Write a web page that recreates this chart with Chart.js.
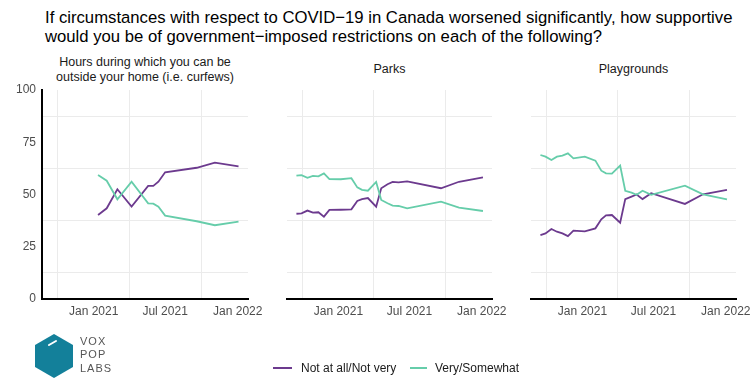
<!DOCTYPE html>
<html>
<head>
<meta charset="utf-8">
<script src="https://cdn.jsdelivr.net/npm/chart.js@4.4.0/dist/chart.umd.min.js"></script>
<style>
html,body{margin:0;padding:0;background:#fff;}
#wrap{position:relative;width:754px;height:381px;overflow:hidden;font-family:"Liberation Sans",Arial,Helvetica,sans-serif;}
#wrap canvas{position:absolute;left:0;top:0;}
.title{position:absolute;left:45px;top:8px;font-size:16.7px;line-height:19px;color:#000;white-space:nowrap;}
.ptitle{position:absolute;text-align:center;font-size:12.5px;line-height:15px;color:#1a1a1a;white-space:nowrap;}
.leg{position:absolute;top:360px;font-size:12px;line-height:16px;color:#1a1a1a;white-space:nowrap;}
.sw{position:absolute;height:2px;top:367px;}
.logotxt{position:absolute;left:80px;font-size:11px;line-height:13px;letter-spacing:1px;color:#555;}
</style>
</head>
<body>
<div id="wrap">
  <div class="title">If circumstances with respect to COVID−19 in Canada worsened significantly, how supportive<br>would you be of government−imposed restrictions on each of the following?</div>
  <div class="ptitle" style="left:42px;width:206px;top:55px;">Hours during which you can be<br>outside your home (i.e. curfews)</div>
  <div class="ptitle" style="left:287px;width:205px;top:62px;">Parks</div>
  <div class="ptitle" style="left:531px;width:205px;top:62px;">Playgrounds</div>
  <canvas id="c1" width="754" height="381"></canvas>
  <canvas id="c2" width="754" height="381"></canvas>
  <canvas id="c3" width="754" height="381"></canvas>
  <div class="sw" style="left:273px;width:19px;background:#6C3A8E;"></div>
  <div class="leg" style="left:301px;">Not at all/Not very</div>
  <div class="sw" style="left:410px;width:17px;background:#66CDAA;"></div>
  <div class="leg" style="left:435px;">Very/Somewhat</div>
  <svg style="position:absolute;left:0;top:0;" width="100" height="381">
    <polygon points="54,334 73,345 73,367 54,378 35,367 35,345" fill="#13809A"/>
    <line x1="49" y1="345" x2="56" y2="341" stroke="#fff" stroke-width="2" stroke-linecap="round"/>
  </svg>
  <div class="logotxt" style="top:335px;">VOX</div>
  <div class="logotxt" style="top:348px;">POP</div>
  <div class="logotxt" style="top:362px;">LABS</div>
</div>
<script>
// ---- data ----
const seriesNames = ['Not at all/Not very', 'Very/Somewhat'];

const curfewDates = ['2021-01-12','2021-02-03','2021-03-02','2021-04-07','2021-05-19','2021-06-01','2021-06-14','2021-07-01','2021-09-19','2021-11-04','2022-01-03'];
const curfewNotVery = [40.2, 43.4, 52.5, 44.2, 54.1, 54.1, 56.1, 60.6, 62.8, 65.2, 63.5];
const curfewVery    = [59.3, 56.6, 47.7, 56.1, 45.8, 45.6, 44.2, 39.9, 37.2, 35.3, 37.0];

const surveyDates = ['2020-09-16','2020-09-29','2020-10-14','2020-10-28','2020-11-11','2020-11-25','2020-12-09','2021-01-07','2021-02-03','2021-02-18','2021-03-02','2021-03-17','2021-04-07','2021-04-20','2021-05-06','2021-05-19','2021-06-03','2021-06-25','2021-09-19','2021-11-04','2022-01-04'];
const parksNotVery = [40.8, 41.0, 42.3, 41.3, 41.5, 39.4, 42.6, 42.7, 42.9, 46.9, 47.8, 48.3, 44.2, 53.0, 54.9, 56.0, 55.8, 56.3, 53.0, 56.1, 58.2];
const parksVery    = [59.0, 59.3, 58.0, 58.9, 58.7, 60.1, 57.4, 57.3, 57.8, 53.4, 52.2, 51.8, 56.0, 47.4, 45.8, 44.7, 44.5, 43.4, 46.6, 43.7, 42.1];
const playNotVery  = [30.6, 31.4, 33.5, 32.2, 31.4, 30.1, 32.7, 32.4, 33.8, 38.1, 40.0, 40.2, 36.5, 47.8, 49.0, 50.0, 47.8, 50.6, 45.5, 50.1, 52.2];
const playVery     = [68.9, 68.1, 66.5, 68.1, 68.6, 69.7, 67.3, 68.1, 66.2, 61.4, 60.1, 60.0, 63.8, 51.8, 50.9, 49.9, 51.8, 49.8, 54.2, 50.1, 47.7];

const xTickDates  = ['2021-01-01','2021-07-01','2022-01-01'];
const xTickLabels = ['Jan 2021','Jul 2021','Jan 2022'];
const xGridDates  = ['2020-10-01','2021-04-01','2021-10-01'];
const yTickValues = [0, 25, 50, 75, 100];
const yGridValues = [12.5, 37.5, 62.5, 87.5];

// ---- helpers ----
const toDay = s => Math.round(Date.UTC(+s.slice(0,4), +s.slice(5,7)-1, +s.slice(8,10)) / 86400000);
const xMin = toDay('2020-08-23');
const xMax = toDay('2022-01-27');
const xTickDays = xTickDates.map(toDay);
const xGridDays = xGridDates.map(toDay);
const xAllTicks = [...xGridDays, ...xTickDays].sort((a,b)=>a-b);
const yAllTicks = [...yTickValues, ...yGridValues].sort((a,b)=>a-b);

const PURPLE = '#6C3A8E';
const TEAL = '#66CDAA';
const GRID = '#EBEBEB';
const FONT = '"Liberation Sans", Arial, Helvetica, sans-serif';

function makePanel(id, dates, notVery, very, left, right, showY) {
  const xs = dates.map(toDay);
  new Chart(document.getElementById(id), {
    type: 'line',
    data: {
      datasets: [
        { label: seriesNames[1], data: xs.map((x,i)=>({x, y: very[i]})), borderColor: TEAL, borderWidth: 1.8, pointRadius: 0, tension: 0, fill: false },
        { label: seriesNames[0], data: xs.map((x,i)=>({x, y: notVery[i]})), borderColor: PURPLE, borderWidth: 1.8, pointRadius: 0, tension: 0, fill: false }
      ]
    },
    options: {
      responsive: false,
      animation: false,
      devicePixelRatio: 1,
      layout: { padding: { left: showY ? 0 : left, right: 754 - right, top: 90, bottom: 381 - 299 - 24 } },
      plugins: { legend: { display: false }, tooltip: { enabled: false } },
      scales: {
        x: {
          type: 'linear', min: xMin, max: xMax,
          afterBuildTicks: s => { s.ticks = xAllTicks.map(v => ({ value: v })); },
          afterFit: s => { s.height = 24; s.paddingLeft = 0; s.paddingRight = 0; },
          grid: { drawTicks: false, lineWidth: 1, color: c => (c.tick && xGridDays.includes(c.tick.value)) ? GRID : 'rgba(0,0,0,0)' },
          border: { display: true, color: '#000', width: 2 },
          ticks: {
            autoSkip: false, maxRotation: 0, minRotation: 0, padding: 5, color: '#4d4d4d',
            font: { size: 12, family: FONT },
            callback: v => { const i = xTickDays.indexOf(v); return i >= 0 ? xTickLabels[i] : ''; }
          }
        },
        y: {
          type: 'linear', min: 0, max: 100,
          afterBuildTicks: s => { s.ticks = yAllTicks.map(v => ({ value: v })); },
          afterFit: s => { s.width = showY ? left : 0; },
          grid: { drawTicks: false, lineWidth: 1, color: c => (c.tick && yGridValues.includes(c.tick.value)) ? GRID : 'rgba(0,0,0,0)' },
          border: { display: showY, color: '#000', width: 2 },
          ticks: {
            display: showY, autoSkip: false, padding: 6, color: '#4d4d4d',
            font: { size: 12, family: FONT },
            callback: v => yTickValues.includes(v) ? String(v) : ''
          }
        }
      }
    }
  });
}

makePanel('c1', curfewDates, curfewNotVery, curfewVery, 42, 248, true);
makePanel('c2', surveyDates, parksNotVery, parksVery, 287, 492, false);
makePanel('c3', surveyDates, playNotVery, playVery, 531, 736, false);
</script>
</body>
</html>
